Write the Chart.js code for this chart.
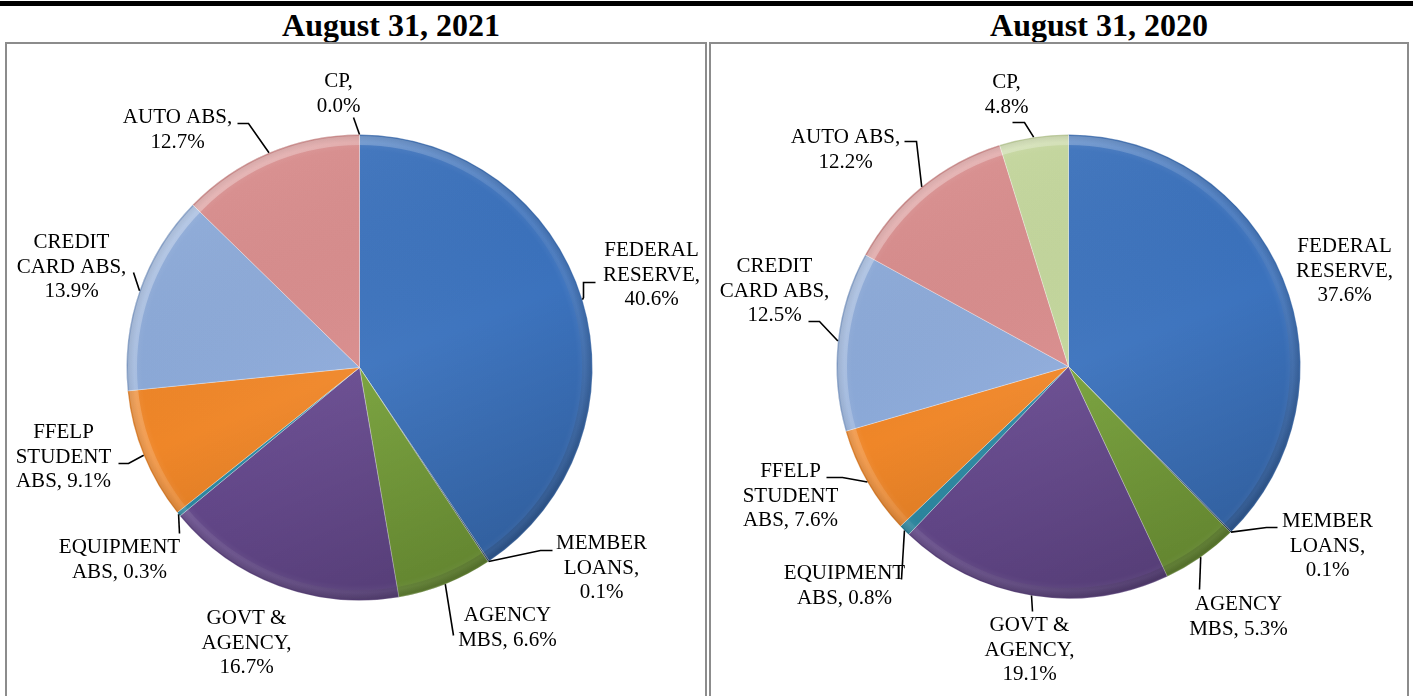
<!DOCTYPE html>
<html lang="en">
<head>
  <meta charset="UTF-8" />
  <title>Portfolio composition</title>
  <script src="https://cdn.jsdelivr.net/npm/chart.js"></script>
  <style>
    body {
      margin: 0;
      width: 1413px;
      height: 696px;
      overflow: hidden;
      background: #fff;
      font-family: "Liberation Serif", "Times New Roman", serif;
      position: relative;
    }
    .topline {
      position: absolute;
      left: 0; top: 1px;
      width: 1413px; height: 5px;
      background: #000;
    }
    .title {
      position: absolute;
      top: 8px;
      font-weight: bold;
      font-size: 32px;
      line-height: 34px;
      white-space: nowrap;
      transform: translateX(-50%);
    }
    .panel {
      position: absolute;
      top: 42px;
      height: 680px;
      border: 2px solid #8c8c8c;
      box-sizing: border-box;
    }
    .chart-box {
      position: absolute;
      top: 44px;
      height: 652px;
    }
  </style>
</head>
<body>
  <div class="topline"></div>
  <div class="title" style="left:391px">August 31, 2021</div>
  <div class="title" style="left:1099px">August 31, 2020</div>

  <div class="panel" style="left:5px; width:702px"></div>
  <div class="panel" style="left:709px; width:700px"></div>

  <div class="chart-box" style="left:7px; width:698px"><canvas id="pie2021"></canvas></div>
  <div class="chart-box" style="left:711px; width:696px"><canvas id="pie2020"></canvas></div>

  <script>
    // categories, clockwise from 12 o'clock
    const categories = ['FEDERAL RESERVE', 'MEMBER LOANS', 'AGENCY MBS', 'GOVT & AGENCY',
      'EQUIPMENT ABS', 'FFELP STUDENT ABS', 'CREDIT CARD ABS', 'AUTO ABS', 'CP'];
    const values2021 = [40.6, 0.1, 6.6, 16.7, 0.3, 9.1, 13.9, 12.7, 0.0];
    const values2020 = [37.6, 0.1, 5.3, 19.1, 0.8, 7.6, 12.5, 12.2, 4.8];
    // how each label breaks into lines, {v} = value
    const labelLines = ['FEDERAL\nRESERVE,\n{v}', 'MEMBER\nLOANS,\n{v}', 'AGENCY\nMBS, {v}',
      'GOVT &\nAGENCY,\n{v}', 'EQUIPMENT\nABS, {v}', 'FFELP\nSTUDENT\nABS, {v}',
      'CREDIT\nCARD ABS,\n{v}', 'AUTO ABS,\n{v}', 'CP,\n{v}'];
    const colors = ['#3b72bd', '#2c4d75', '#77a03a', '#674a8f', '#2e8ca6', '#ef8628',
      '#8caad9', '#d88b8b', '#c3d69b'];

    // label placement relative to pie centre (text centre x, first line centre y)
    const textPos2021 = [[292, -117], [242, 176], [148, 248], [-113, 251], [-240, 180],
      [-296, 65], [-288, -125], [-182, -250], [-21, -286]];
    const leaders2021 = [[[224, -70], [224, -85], [236, -85]], [[181, 183], [193, 183]],
      [[94, 268]], [], [[-180, 166]], [[-231, 96], [-241, 96]], [[-226, -95]],
      [[-111, -244], [-122, -244]], [[-6, -250]]];
    const textPos2020 = [[276, -120], [259, 155], [170, 238], [-39, 259], [-224, 207],
      [-278, 105], [-294, -100], [-223, -229], [-62, -284]];
    const leaders2020 = [[], [[198, 161], [209, 161]], [[131, 223]], [[-36, 245]],
      [[-167, 213]], [[-226, 111], [-242, 111]], [[-249, -45], [-260, -45]],
      [[-152, -225], [-164, -225]], [[-44, -244], [-56, -244]]];

    function mix(hex, amt) {
      const n = parseInt(hex.slice(1), 16);
      let r = n >> 16, g = (n >> 8) & 255, b = n & 255;
      const t = amt > 0 ? 255 : 0, a = Math.abs(amt);
      r = Math.round(r + (t - r) * a); g = Math.round(g + (t - g) * a); b = Math.round(b + (t - b) * a);
      return `rgb(${r},${g},${b})`;
    }

    function sliceFill(c) {
      const base = colors[c.dataIndex];
      const area = c.chart.chartArea;
      if (!area) return base;
      const cx = (area.left + area.right) / 2, cy = (area.top + area.bottom) / 2;
      const r = Math.min(area.width, area.height) / 2;
      const g = c.chart.ctx.createRadialGradient(cx, cy, 0, cx, cy, r);
      g.addColorStop(0, mix(base, 0.04));
      g.addColorStop(0.93, base);
      g.addColorStop(0.965, mix(base, 0.06));
      g.addColorStop(1, mix(base, -0.12));
      return g;
    }

    // bevel look: light from the upper left, shadow to the lower right
    const shade = {
      id: 'shade',
      afterDatasetsDraw(chart) {
        const arc = chart.getDatasetMeta(0).data[0];
        const { x, y, outerRadius: R } = arc.getProps(['x', 'y', 'outerRadius'], true);
        const ctx = chart.ctx;
        ctx.save();
        const g = ctx.createLinearGradient(x - R * 0.4, y - R, x + R * 0.4, y + R);
        g.addColorStop(0, 'rgba(255,255,255,0.08)');
        g.addColorStop(0.5, 'rgba(0,0,0,0)');
        g.addColorStop(1, 'rgba(0,0,0,0.18)');
        ctx.beginPath();
        ctx.arc(x, y, R, 0, Math.PI * 2);
        ctx.fillStyle = g;
        ctx.fill();
        const rim = ctx.createLinearGradient(x - R * 0.7, y - R * 0.7, x + R * 0.7, y + R * 0.7);
        rim.addColorStop(0, 'rgba(255,255,255,0.30)');
        rim.addColorStop(0.5, 'rgba(255,255,255,0.06)');
        rim.addColorStop(1, 'rgba(0,0,0,0.12)');
        ctx.beginPath();
        ctx.arc(x, y, R - 6, 0, Math.PI * 2);
        ctx.lineWidth = 9;
        ctx.strokeStyle = rim;
        ctx.stroke();
        ctx.restore();
      }
    };

    function labelPlugin(textPos, leaders) {
      return {
        id: 'pieLabels',
        afterDatasetsDraw(chart) {
          const ctx = chart.ctx;
          const data = chart.data.datasets[0].data;
          ctx.save();
          ctx.font = '21px "Liberation Serif", "Times New Roman", serif';
          ctx.fillStyle = '#000';
          ctx.strokeStyle = '#000';
          ctx.lineWidth = 1.6;
          ctx.textAlign = 'center';
          ctx.textBaseline = 'middle';
          chart.getDatasetMeta(0).data.forEach((arc, i) => {
            const p = arc.getProps(['x', 'y', 'startAngle', 'endAngle', 'outerRadius'], true);
            const mid = (p.startAngle + p.endAngle) / 2;
            const ax = p.x + Math.cos(mid) * p.outerRadius;
            const ay = p.y + Math.sin(mid) * p.outerRadius;
            const pts = leaders[i];
            if (pts.length) {
              ctx.beginPath();
              ctx.moveTo(ax, ay);
              pts.forEach(([dx, dy]) => ctx.lineTo(p.x + dx, p.y + dy));
              ctx.stroke();
            }
            const lines = labelLines[i].replace('{v}', data[i].toFixed(1) + '%').split('\n');
            const [tx, ty] = textPos[i];
            lines.forEach((line, k) => ctx.fillText(line, p.x + tx, p.y + ty + k * 24.5));
          });
          ctx.restore();
        }
      };
    }

    function makePie(id, values, padding, textPos, leaders) {
      new Chart(document.getElementById(id).getContext('2d'), {
        type: 'pie',
        data: {
          labels: categories,
          datasets: [{
            data: values,
            backgroundColor: sliceFill,
            borderColor: 'rgba(255,255,255,0.3)',
            borderWidth: 1
          }]
        },
        options: {
          responsive: true,
          maintainAspectRatio: false,
          animation: false,
          layout: { padding: padding },
          plugins: { legend: { display: false }, tooltip: { enabled: false } }
        },
        plugins: [shade, labelPlugin(textPos, leaders)]
      });
    }

    makePie('pie2021', values2021, { left: 119, right: 112, top: 90, bottom: 95 }, textPos2021, leaders2021);
    makePie('pie2020', values2020, { left: 125, right: 106, top: 90, bottom: 97 }, textPos2020, leaders2020);
  </script>
</body>
</html>
